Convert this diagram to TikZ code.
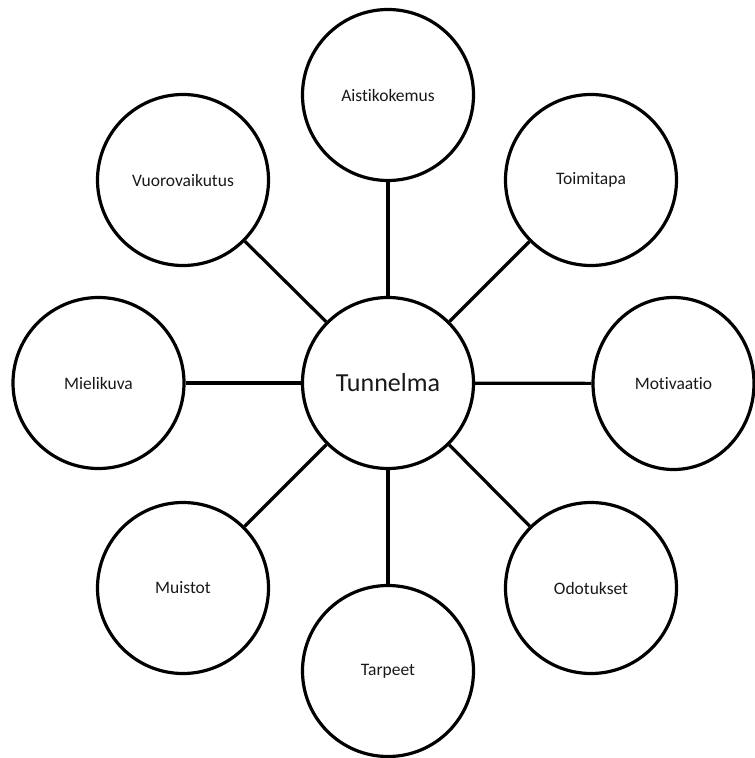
\documentclass[tikz,border=0pt]{standalone}
\usepackage{fontspec}
\setmainfont{Carlito}[Ligatures={NoCommon}]
\usetikzlibrary{shapes.geometric}
\begin{document}
\begin{tikzpicture}[x=1pt,y=-1pt,
  hub/.style={circle,draw=black,line width=3.2pt,minimum size=171pt,inner sep=0pt,
    font=\fontsize{26}{30}\selectfont,text=black!90},
  topic/.style={circle,draw=black,line width=3.2pt,minimum size=171pt,inner sep=0pt,
    font=\fontsize{17.5}{20}\selectfont,text=black!90},
  spoke/.style={line width=3.2pt,draw=black}]
  \useasboundingbox (0,0) rectangle (755,758);
  % central theme
  \node[hub] (tun) at (388,383) {Tunnelma};
  % surrounding topics
  \node[topic] (ais) at (388,95) {Aistikokemus};
  \node[topic] (toi) at (591,180) {Toimitapa};
  \node[topic,ellipse,minimum width=161pt,minimum height=172pt] (mot) at (673.5,383.5) {Motivaatio};
  \node[topic] (odo) at (591,588) {Odotukset};
  \node[topic] (tar) at (388,671) {Tarpeet};
  \node[topic] (mui) at (183,588) {Muistot};
  \node[topic] (mie) at (98.5,383) {Mielikuva};
  \node[topic] (vuo) at (183,180) {Vuorovaikutus};
  % spokes
  \foreach \t in {ais,toi,mot,odo,tar,mui,mie,vuo}
    \draw[spoke] (tun) -- (\t);
\end{tikzpicture}
\end{document}
